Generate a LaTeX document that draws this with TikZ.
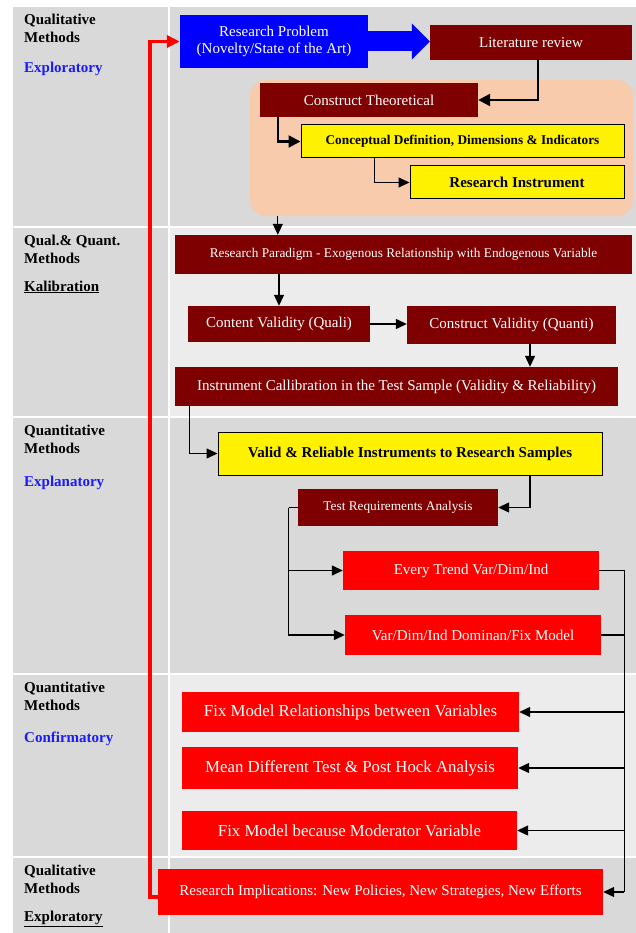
\documentclass[tikz,border=0pt]{standalone}
\usepackage{fontspec}
\setmainfont{Liberation Serif}
\usetikzlibrary{arrows.meta}
\definecolor{maroon}{HTML}{7F0000}
\definecolor{peach}{HTML}{F8CBAD}
\definecolor{cellgray}{HTML}{D9D9D9}
\definecolor{celllight}{HTML}{ECECEC}
\definecolor{labelblue}{HTML}{1A1AFF}
\tikzset{
  box/.style={inner sep=0pt, align=center, font=\fontsize{15}{17}\selectfont},
  smallbox/.style={font=\fontsize{13.3}{16}\selectfont},
  largebox/.style={font=\fontsize{16.8}{19}\selectfont},
  maroonbox/.style={box, fill=maroon, text=white},
  redbox/.style={box, fill=red, text=white},
  bluebox/.style={box, fill=blue, text=white},
  yellowbox/.style={box, fill=yellow, draw=black, line width=1pt, font=\fontsize{15}{17}\selectfont\bfseries},
  methodlabel/.style={anchor=north west, inner sep=0pt, align=left, font=\fontsize{15}{18}\selectfont\bfseries},
  link/.style={line width=1.3pt, -{Triangle[width=10pt,length=11pt]}},
  thicklink/.style={line width=2.2pt, -{Triangle[width=12pt,length=12pt]}},
  busline/.style={line width=1.3pt},
  feedback/.style={red, line width=3.5pt, -{Triangle[width=12pt,length=13pt]}},
  bigarrow/.style={blue, line width=20pt, -{Triangle[width=35pt,length=18pt]}},
}
\begin{document}
\begin{tikzpicture}[x=1pt, y=-1pt]
\def\leftcol{13}
\def\colsplit{168}
\def\rightcol{170}
\def\pagewidth{636}
\useasboundingbox (0,0) rectangle (\pagewidth,933);

\fill[cellgray] (\leftcol,7) rectangle (\colsplit,226);
\fill[cellgray] (\rightcol,7) rectangle (\pagewidth,226);
\fill[cellgray] (\leftcol,228) rectangle (\colsplit,416);
\fill[celllight] (\rightcol,228) rectangle (\pagewidth,416);
\fill[cellgray] (\leftcol,418) rectangle (\colsplit,673);
\fill[cellgray] (\rightcol,418) rectangle (\pagewidth,673);
\fill[cellgray] (\leftcol,675) rectangle (\colsplit,856);
\fill[celllight] (\rightcol,675) rectangle (\pagewidth,856);
\fill[cellgray] (\leftcol,858) rectangle (\colsplit,933);
\fill[cellgray] (\rightcol,858) rectangle (\pagewidth,933);

\node[methodlabel] (row1) at (24,13.5) {Qualitative\\Methods\\[12pt]\textcolor{labelblue}{Exploratory}};
\node[methodlabel] (row2) at (24,234.5) {Qual.\& Quant.\\Methods\\[10pt]\underline{Kalibration}};
\node[methodlabel] (row3) at (24,424.5) {Quantitative\\Methods\\[15pt]\textcolor{labelblue}{Explanatory}};
\node[methodlabel] (row4) at (24,681.5) {Quantitative\\Methods\\[14pt]\textcolor{labelblue}{Confirmatory}};
\node[methodlabel] (row5) at (24,864.5) {Qualitative\\Methods\\[10pt]\underline{Exploratory}};

\node[bluebox, minimum width=188pt, minimum height=53pt] (problem) at (274,41.5) {Research Problem\\(Novelty/State of the Art)};
\node[maroonbox, minimum width=202pt, minimum height=35pt] (review) at (531,42.5) {Literature review};
\node[fill=peach, rounded corners=16pt, inner sep=0pt, minimum width=383pt, minimum height=136pt] (theory) at (441.5,148) {};
\node[maroonbox, minimum width=218pt, minimum height=34pt] (construct) at (369,100) {Construct Theoretical};
\node[yellowbox, minimum width=323pt, minimum height=33pt, font=\fontsize{13.3}{16}\selectfont\bfseries] (concept) at (462.5,141.5) {Conceptual Definition, Dimensions \& Indicators};
\node[yellowbox, minimum width=214pt, minimum height=33pt] (instrument) at (517,182.5) {Research Instrument};

\node[maroonbox, smallbox, minimum width=457pt, minimum height=39pt] (paradigm) at (403.5,254.5) {Research Paradigm - Exogenous Relationship with Endogenous Variable};
\node[maroonbox, minimum width=182pt, minimum height=36pt] (content) at (279,324) {Content Validity (Quali)};
\node[maroonbox, minimum width=209pt, minimum height=38pt] (cvalid) at (511.5,325) {Construct Validity (Quanti)};
\node[maroonbox, minimum width=443pt, minimum height=39pt] (calib) at (396.5,386.5) {Instrument Callibration in the Test Sample (Validity \& Reliability)};

\node[yellowbox, minimum width=384pt, minimum height=43pt] (valid) at (410,453.5) {Valid \& Reliable Instruments to Research Samples};
\node[maroonbox, smallbox, minimum width=200pt, minimum height=37pt] (testreq) at (398,507.5) {Test Requirements Analysis};
\node[redbox, minimum width=256pt, minimum height=39pt] (trend) at (471,570.5) {Every Trend Var/Dim/Ind};
\node[redbox, minimum width=256pt, minimum height=40pt] (dominan) at (473,635) {Var/Dim/Ind Dominan/Fix Model};

\node[redbox, largebox, minimum width=337pt, minimum height=40pt] (fixrel) at (350.5,712) {Fix Model Relationships between Variables};
\node[redbox, largebox, minimum width=336pt, minimum height=42pt] (meandiff) at (350,768) {Mean Different Test \& Post Hock Analysis};
\node[redbox, largebox, minimum width=335pt, minimum height=39pt] (fixmod) at (349.5,830.5) {Fix Model because Moderator Variable};
\node[redbox, minimum width=445pt, minimum height=46pt] (implication) at (380.5,892) {Research Implications: New Policies, New Strategies, New Efforts};

\draw[bigarrow] (problem.east) -- (problem.east -| review.west);
\draw[thicklink] ([xshift=7pt]review.south) |- (construct.east);
\draw[thicklink] ([xshift=18pt]construct.south west) |- (concept.west);
\draw[link] ([xshift=74pt]concept.south west) |- (instrument.west);
\draw[link] ([xshift=28pt]theory.south west) -- ([xshift=103pt]paradigm.north west);
\draw[link] (paradigm.south -| content.north) -- (content.north);
\draw[link] (content.east) -- (content.east -| cvalid.west);
\draw[link] ([xshift=18.5pt]cvalid.south) -- ([xshift=18.5pt]cvalid.south |- calib.north);
\draw[link] ([xshift=15pt]calib.south west) |- (valid.west);
\draw[link] ([xshift=120pt]valid.south) |- (testreq.east);

\coordinate (split) at ([xshift=-9pt]testreq.west);
\draw[busline] (testreq.west) -- (split);
\draw[link] (split) |- (trend.west);
\draw[link] (split) |- (dominan.west);

\coordinate (merge) at ([xshift=25pt]trend.east);
\draw[busline] (trend.east) -- (merge) -- (merge |- implication.east);
\draw[busline] (dominan.east) -- (merge |- dominan.east);
\draw[link] (merge |- fixrel.east) -- (fixrel.east);
\draw[link] (merge |- meandiff.east) -- (meandiff.east);
\draw[link] (merge |- fixmod.east) -- (fixmod.east);
\draw[link] (merge |- implication.east) -- (implication.east);

\coordinate (loop) at ([xshift=-8pt,yshift=-5pt]implication.west);
\draw[feedback] ([yshift=-5pt]implication.west) -- (loop) |- (problem.west);
\end{tikzpicture}
\end{document}
